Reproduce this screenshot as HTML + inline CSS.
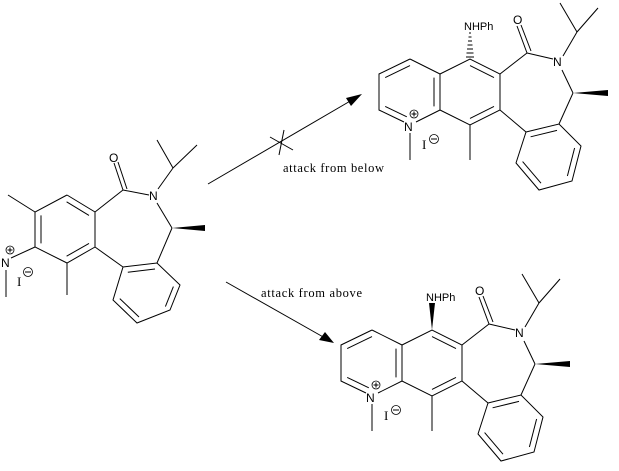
<!DOCTYPE html>
<html><head><style>
html,body{margin:0;padding:0;background:#fff;}
svg{display:block;}
text{font-family:"Liberation Sans",sans-serif;font-size:12px;fill:#000;}
.s{font-family:"Liberation Serif",serif;font-size:11px;}
.c{font-family:"Liberation Serif",serif;font-size:12.5px;}
line,polyline{stroke:#000;stroke-width:1;fill:none;}
.d{vector-effect:non-scaling-stroke;}
</style></head><body>
<svg width="619" height="471" viewBox="0 0 619 471" xmlns="http://www.w3.org/2000/svg">
<defs>
<g id="prod">
 <polyline points="410,59 379,74 379,110 404,122"/>
 <line x1="416" y1="122" x2="440" y2="110"/>
 <line x1="440" y1="110" x2="440" y2="74"/>
 <line x1="440" y1="74" x2="410" y2="59"/>
 <g transform="translate(410,92) scale(.8) translate(-410,-92)">
  <line class="d" x1="379" y1="74" x2="410" y2="59"/>
  <line class="d" x1="379" y1="110" x2="406" y2="123"/>
  <line class="d" x1="440" y1="74" x2="440" y2="110"/>
 </g>
 <text x="404" y="131">N</text>
 <circle cx="414" cy="114" r="4" fill="none" stroke="#000" stroke-width="0.8"/>
 <line x1="411.5" y1="114" x2="416.5" y2="114" stroke-width="0.8"/>
 <line x1="414" y1="111.5" x2="414" y2="116.5" stroke-width="0.8"/>
 <line x1="410" y1="133" x2="410" y2="160"/>
 <text class="s" x="422" y="149" style="font-size:13px">I</text>
 <circle cx="434" cy="139" r="4.5" fill="none" stroke="#000" stroke-width="0.8"/>
 <line x1="431" y1="139" x2="437" y2="139" stroke-width="0.8"/>
 <polyline points="440,74 470,59 500,74 500,110 470,125 440,110"/>
 <g transform="translate(470,92) scale(.8) translate(-470,-92)">
  <line class="d" x1="470" y1="59" x2="500" y2="74"/>
  <line class="d" x1="500" y1="110" x2="470" y2="125"/>
 </g>
 <line x1="470" y1="125" x2="470" y2="160"/>
 <line x1="500" y1="74" x2="527" y2="53"/>
 <line x1="527" y1="53" x2="517" y2="26"/>
 <line x1="531" y1="51" x2="521" y2="25"/>
 <text x="513" y="24">O</text>
 <line x1="527" y1="53" x2="553" y2="59"/>
 <text x="553" y="66">N</text>
 <line x1="563" y1="56" x2="577" y2="32"/>
 <line x1="577" y1="32" x2="560" y2="3"/>
 <line x1="577" y1="32" x2="598" y2="8"/>
 <line x1="562" y1="70" x2="573" y2="93"/>
 <polygon points="573,93 608,90 608,96" fill="#000"/>
 <line x1="573" y1="93" x2="559" y2="124"/>
 <line x1="500" y1="110" x2="526" y2="132"/>
 <polyline points="526,132 559,124 581,146 572,181 539,190 516,163 526,132"/>
 <g transform="translate(549,156) scale(.8) translate(-549,-156)">
  <line class="d" x1="526" y1="132" x2="559" y2="124"/>
  <line class="d" x1="581" y1="146" x2="572" y2="181"/>
  <line class="d" x1="539" y1="190" x2="516" y2="163"/>
 </g>
 <text x="464" y="30" style="font-size:11px">NHPh</text>
</g>
</defs>

<polyline points="67,195 95,212 95,247 67,263 35,247 35,212 67,195"/>
<g transform="translate(65,229) scale(.8) translate(-65,-229)">
 <line class="d" x1="67" y1="195" x2="95" y2="212"/>
 <line class="d" x1="95" y1="247" x2="67" y2="263"/>
 <line class="d" x1="35" y1="212" x2="35" y2="247"/>
</g>
<line x1="35" y1="212" x2="8" y2="195"/>
<line x1="35" y1="247" x2="11" y2="258"/>
<text x="1" y="267">N</text>
<circle cx="10" cy="250" r="4" fill="none" stroke="#000" stroke-width="0.8"/>
<line x1="7.5" y1="250" x2="12.5" y2="250" stroke-width="0.8"/>
<line x1="10" y1="247.5" x2="10" y2="252.5" stroke-width="0.8"/>
<line x1="6" y1="270" x2="6" y2="297"/>
<text class="s" x="17" y="286" style="font-size:13px">I</text>
<circle cx="28" cy="272" r="4.5" fill="none" stroke="#000" stroke-width="0.8"/>
<line x1="25" y1="272" x2="31" y2="272" stroke-width="0.8"/>
<line x1="67" y1="263" x2="67" y2="295"/>
<line x1="95" y1="212" x2="123" y2="190"/>
<line x1="123" y1="190" x2="114" y2="163"/>
<line x1="127" y1="189" x2="118" y2="162"/>
<text x="109" y="162">O</text>
<line x1="123" y1="190" x2="149" y2="195"/>
<text x="149" y="200">N</text>
<line x1="158" y1="189" x2="173" y2="168"/>
<line x1="173" y1="168" x2="157" y2="140"/>
<line x1="173" y1="168" x2="197" y2="145"/>
<line x1="157" y1="203" x2="172" y2="228"/>
<polygon points="172,228 205,225 205,231" fill="#000"/>
<line x1="172" y1="228" x2="157" y2="263"/>
<line x1="95" y1="247" x2="123" y2="267"/>
<polyline points="123,267 157,263 180,285 170,310 137,323 113,300 123,267"/>
<g transform="translate(147,293) scale(.8) translate(-147,-293)">
 <line class="d" x1="123" y1="267" x2="157" y2="263"/>
 <line class="d" x1="180" y1="285" x2="170" y2="310"/>
 <line class="d" x1="137" y1="323" x2="113" y2="300"/>
</g>

<use href="#prod"/>
<g stroke="#000" stroke-width="1">
 <line x1="466" y1="57" x2="474" y2="57"/><line x1="466.5" y1="53" x2="473.5" y2="53"/>
 <line x1="467" y1="49" x2="473" y2="49"/><line x1="467.5" y1="45" x2="472.5" y2="45"/>
 <line x1="468" y1="41" x2="472" y2="41"/><line x1="468.5" y1="37" x2="471.5" y2="37"/>
 <line x1="469" y1="33" x2="471" y2="33"/>
</g>

<g transform="translate(-38,271)">
 <use href="#prod"/>
 <polygon points="470,59 467,32 473,32" fill="#000"/>
</g>

<line x1="208" y1="184" x2="352" y2="100"/>
<polygon points="362,94 346,98 351,106" fill="#000"/>
<line x1="270" y1="137" x2="293" y2="150"/>
<line x1="284" y1="130" x2="279" y2="155"/>
<text class="c" x="283" y="172" textLength="101">attack from below</text>

<line x1="226" y1="282" x2="325" y2="338"/>
<polygon points="334,343 319,340 325,332" fill="#000"/>
<text class="c" x="261" y="297" textLength="101">attack from above</text>
</svg>
</body></html>
